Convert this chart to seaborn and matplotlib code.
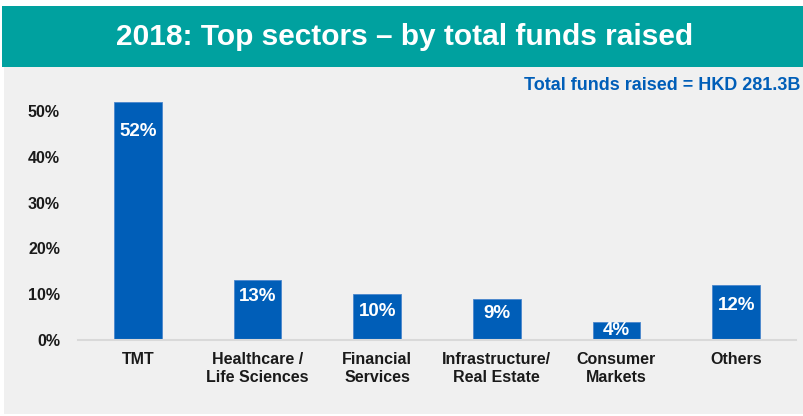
import matplotlib
matplotlib.use("Agg")
import matplotlib.pyplot as plt
from matplotlib.patches import Rectangle
from matplotlib.ticker import FuncFormatter
import seaborn as sns
import pandas as pd

# Share of total IPO funds raised in 2018, by sector
sectors = ["TMT", "Healthcare /\nLife Sciences", "Financial\nServices",
           "Infrastructure/\nReal Estate", "Consumer\nMarkets", "Others"]
shares = [52, 13, 10, 9, 4, 12]
yticks = [0, 10, 20, 30, 40, 50]
title = "2018: Top sectors \u2013 by total funds raised"
note = "Total funds raised = HKD 281.3B"

TEAL = "#00A19F"
BLUE = "#005EB8"
PANEL = "#F0F0F0"

sns.set_theme(style="white")
plt.rcParams["font.family"] = ["Liberation Sans", "DejaVu Sans"]

W, H = 804, 416
fig = plt.figure(figsize=(W / 100, H / 100), dpi=100)
fig.patch.set_facecolor("white")

# banner and panel backgrounds (pixel coordinates from the top-left)
def px_rect(x0, y0, x1, y1, color):
    fig.patches.append(Rectangle((x0 / W, 1 - y1 / H), (x1 - x0) / W, (y1 - y0) / H,
                                 transform=fig.transFigure, facecolor=color,
                                 edgecolor="none", zorder=-5))

px_rect(2, 6, W, 67, TEAL)
px_rect(4, 67, W, 414, PANEL)

fig.text(0.503, 1 - 37 / H, title, ha="center", va="center", color="white",
         fontsize=21.5, fontweight="bold")
fig.text(800 / W, 1 - 85 / H, note, ha="right", va="center", color=BLUE,
         fontsize=13, fontweight="bold")

ymax = 55
ax = fig.add_axes([78 / W, (H - 340) / H, (796 - 78) / W, (ymax * 4.58) / H])
ax.set_zorder(2)
ax.set_facecolor("none")

df = pd.DataFrame({"sector": sectors, "share": shares})
sns.barplot(data=df, x="sector", y="share", color=BLUE, saturation=1,
            width=0.4, ax=ax, edgecolor="#4A86CC", linewidth=0.6)

ax.set_xlim(-0.5, len(sectors) - 0.5)
ax.set_ylim(0, ymax)
ax.set_yticks(yticks)
ax.yaxis.set_major_formatter(FuncFormatter(lambda v, _: f"{v:.0f}%"))
ax.set_xlabel("")
ax.set_ylabel("")
for side in ["top", "right", "left"]:
    ax.spines[side].set_visible(False)
ax.spines["bottom"].set_color("#D9D9D9")
ax.spines["bottom"].set_linewidth(1.5)
ax.tick_params(axis="both", length=0)
ax.tick_params(axis="y", pad=13, labelsize=11.5)
ax.tick_params(axis="x", pad=9)
for lab in ax.get_yticklabels():
    lab.set_fontweight("bold")
    lab.set_color("#1A1A1A")
for lab in ax.get_xticklabels():
    lab.set_fontweight("bold")
    lab.set_fontsize(11.5)
    lab.set_color("#1A1A1A")
    lab.set_linespacing(1.2)

# value labels inside the top of each bar
label_drop = [30, 16, 17, 15, 9, 20]
for patch, val, drop in zip(ax.patches, shares, label_drop):
    cx = patch.get_x() + patch.get_width() / 2
    ax.annotate(f"{val}%", (cx, patch.get_height()), xytext=(0, -drop),
                textcoords="offset pixels", ha="center", va="center",
                color="white", fontsize=13.5, fontweight="bold")

fig.savefig("out.png", dpi=100, facecolor=fig.get_facecolor())
